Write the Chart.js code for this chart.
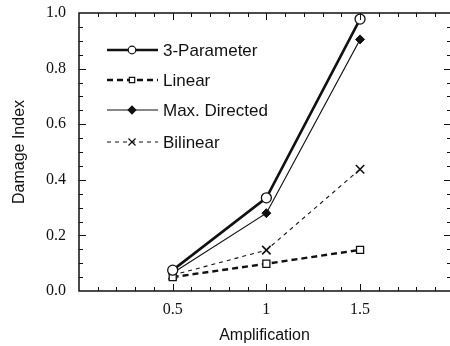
<!DOCTYPE html>
<html>
<head>
<meta charset="utf-8">
<script src="https://cdn.jsdelivr.net/npm/chart.js@4"></script>
<style>
  html, body { margin: 0; padding: 0; background: #fff; }
  #wrap { width: 450px; height: 346px; }
</style>
</head>
<body>
<div id="wrap"><canvas id="c" width="450" height="346"></canvas></div>
<script>
// data
const amplification = [0.5, 1, 1.5];
const threeParam = [0.075, 0.335, 0.978];
const linear = [0.05, 0.098, 0.148];
const maxDirected = [0.065, 0.28, 0.905];
const bilinear = [0.057, 0.147, 0.438];
const xTickLabels = [0.5, 1, 1.5];
const yTickLabels = [0, 0.2, 0.4, 0.6, 0.8, 1.0];
const seriesNames = ['3-Parameter', 'Linear', 'Max. Directed', 'Bilinear'];

const pts = arr => arr.map((v, i) => ({ x: amplification[i], y: v }));
const SANS = '"Liberation Sans", Arial, sans-serif';

// inward ticks + frame + legend
const framePlugin = {
  id: 'frame',
  afterDraw(chart) {
    const ctx = chart.ctx, a = chart.chartArea;
    const xs = chart.scales.x, ys = chart.scales.y;
    ctx.save();
    ctx.strokeStyle = '#111';
    ctx.lineWidth = 1.5;
    // left, bottom, top (right edge falls off the picture)
    ctx.beginPath();
    ctx.moveTo(a.right, a.top); ctx.lineTo(a.left, a.top);
    ctx.lineTo(a.left, a.bottom); ctx.lineTo(a.right, a.bottom);
    ctx.stroke();
    ctx.lineWidth = 1;
    ctx.beginPath();
    for (let i = 1; i * 0.1 < xs.max; i++) {
      const v = i * 0.1;
      const px = Math.round(xs.getPixelForValue(v)) + 0.5;
      const len = (i % 5 === 0) ? 7 : 4;
      ctx.moveTo(px, a.bottom); ctx.lineTo(px, a.bottom - len);
      ctx.moveTo(px, a.top); ctx.lineTo(px, a.top + len);
    }
    for (let i = 1; i < 20; i++) {
      const v = i * 0.05;
      const py = Math.round(ys.getPixelForValue(v)) + 0.5;
      const len = (i % 4 === 0) ? 7 : 4;
      ctx.moveTo(a.left, py); ctx.lineTo(a.left + len, py);
      ctx.moveTo(a.right + 1, py); ctx.lineTo(a.right + 1 - len, py);
    }
    ctx.stroke();

    // legend
    const rows = [50, 80, 110, 142];
    chart.data.datasets.forEach((ds, i) => {
      const y = rows[i];
      ctx.strokeStyle = '#111';
      ctx.lineWidth = ds.borderWidth;
      ctx.setLineDash(ds.borderDash || []);
      ctx.beginPath();
      ctx.moveTo(107, y); ctx.lineTo(158, y);
      ctx.stroke();
      ctx.setLineDash([]);
      ctx.fillStyle = ds.pointBackgroundColor;
      ctx.lineWidth = 1.2;
      Chart.helpers.drawPoint(ctx, {
        pointStyle: ds.pointStyle, radius: ds.pointStyle === 'crossRot' ? 5 : 3.8, borderWidth: 1.2
      }, 132, y);
      ctx.fillStyle = '#111';
      ctx.font = '17px ' + SANS;
      ctx.textBaseline = 'middle';
      ctx.fillText(seriesNames[i], 163, y + 1);
    });
    ctx.restore();
  }
};

Chart.defaults.font.family = '"Liberation Serif", "Times New Roman", serif';
Chart.defaults.color = '#111';

new Chart(document.getElementById('c'), {
  type: 'line',
  data: {
    datasets: [
      {
        label: seriesNames[0], data: pts(threeParam),
        borderColor: '#111', borderWidth: 2.6, pointStyle: 'circle', pointRadius: 5,
        pointBackgroundColor: '#fff', pointBorderColor: '#111', pointBorderWidth: 1.3
      },
      {
        label: seriesNames[1], data: pts(linear),
        borderColor: '#111', borderWidth: 2.4, borderDash: [6, 4], pointStyle: 'rect', pointRadius: 5,
        pointBackgroundColor: '#fff', pointBorderColor: '#111', pointBorderWidth: 1.3
      },
      {
        label: seriesNames[2], data: pts(maxDirected),
        borderColor: '#111', borderWidth: 1.2, pointStyle: 'rectRot', pointRadius: 4.5,
        pointBackgroundColor: '#111', pointBorderColor: '#111', pointBorderWidth: 1
      },
      {
        label: seriesNames[3], data: pts(bilinear),
        borderColor: '#111', borderWidth: 1.1, borderDash: [4, 4], pointStyle: 'crossRot', pointRadius: 6,
        pointBackgroundColor: '#111', pointBorderColor: '#111', pointBorderWidth: 1.6
      }
    ]
  },
  plugins: [framePlugin],
  options: {
    responsive: false,
    animation: false,
    layout: { autoPadding: false, padding: { top: 13, right: 0, left: 0, bottom: 0 } },
    plugins: { legend: { display: false }, tooltip: { enabled: false } },
    scales: {
      x: {
        type: 'linear', min: 0, max: 1.98,
        afterBuildTicks: s => { s.ticks = xTickLabels.map(v => ({ value: v })); },
        afterFit: s => { s.height = 55; s.paddingLeft = 0; s.paddingRight = 0; },
        grid: { display: false, drawTicks: false },
        border: { display: false },
        ticks: { padding: 9, font: { size: 16 }, maxRotation: 0, callback: v => String(v) },
        title: {
          display: true, text: 'Amplification', padding: { top: 2, bottom: 1 },
          font: { family: SANS, size: 16 }
        }
      },
      y: {
        type: 'linear', min: 0, max: 1.0,
        afterBuildTicks: s => { s.ticks = yTickLabels.map(v => ({ value: v })); },
        afterFit: s => { s.width = 79; s.paddingTop = 0; s.paddingBottom = 0; },
        grid: { display: false, drawTicks: false },
        border: { display: false },
        ticks: { padding: 13, font: { size: 16 }, callback: v => v.toFixed(1) },
        title: {
          display: true, text: 'Damage Index', padding: { top: 10 },
          font: { family: SANS, size: 16 }
        }
      }
    }
  }
});
</script>
</body>
</html>
